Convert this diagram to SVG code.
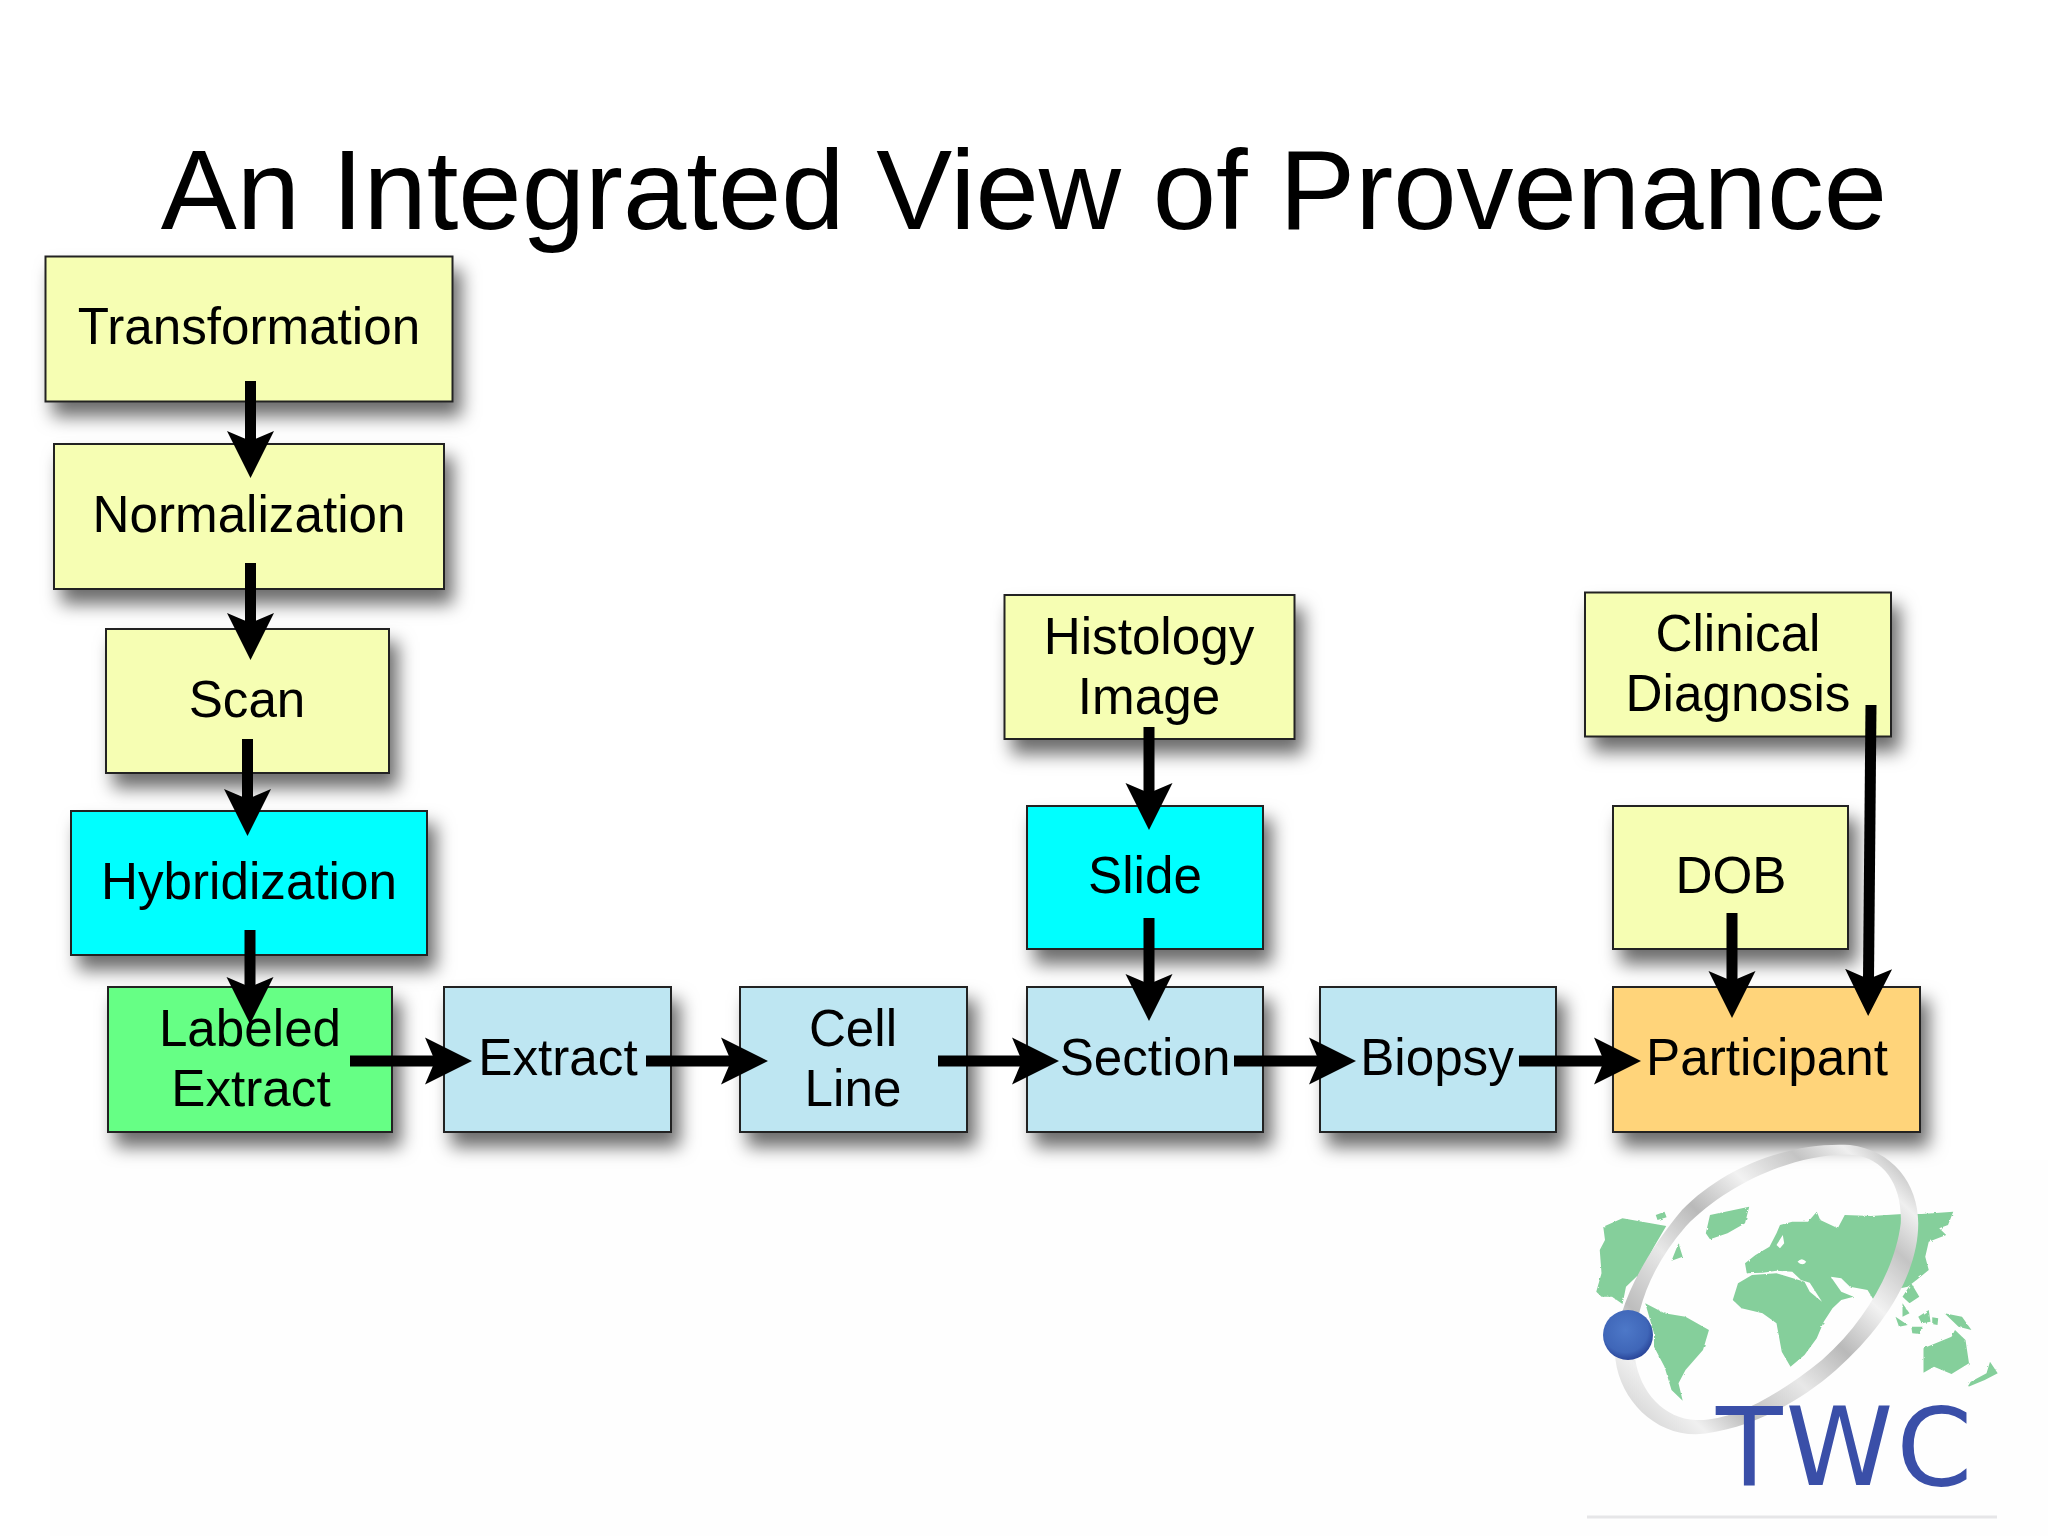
<svg xmlns="http://www.w3.org/2000/svg" width="2048" height="1536" viewBox="0 0 2048 1536">
<style>
text{font-family:"Liberation Sans",Arial,sans-serif;fill:#000}
.t{font-size:51.2px;text-anchor:middle}
.title{font-size:113.9px;text-anchor:middle}
.b{stroke:#222;stroke-width:2;filter:url(#sh)}
.y{fill:#f6feb3}.c{fill:#00ffff}.g{fill:#66ff85}.l{fill:#bee6f2}.o{fill:#ffd47a}
#connectors line{stroke:#000;stroke-width:11;marker-end:url(#ah)}
.land{fill:#85cf9b;filter:url(#rough)}
</style>
<defs>
<filter id="sh" x="-20%" y="-20%" width="150%" height="150%"><feDropShadow dx="8" dy="14" stdDeviation="9" flood-color="#000" flood-opacity=".58"/></filter>
<filter id="rough" x="-5%" y="-5%" width="110%" height="110%"><feTurbulence type="fractalNoise" baseFrequency=".09" numOctaves="2" seed="4"/><feDisplacementMap in="SourceGraphic" scale="7"/></filter>
<marker id="ah" markerUnits="userSpaceOnUse" markerWidth="50" markerHeight="50" refX="10" refY="24" orient="auto" viewBox="0 0 50 48"><path d="M0 .5L47 24L0 47.500L10 24Z" fill="#000"/></marker>
<linearGradient id="ring" gradientUnits="userSpaceOnUse" x1="350" y1="950" x2="1150" y2="150">
<stop offset="0" stop-color="#d0d0d0"/><stop offset=".12" stop-color="#f0f0f0"/><stop offset=".22" stop-color="#bdbdbd"/><stop offset=".38" stop-color="#e8e8e8"/><stop offset=".52" stop-color="#b9b9b9"/><stop offset=".66" stop-color="#f2f2f2"/><stop offset=".8" stop-color="#c4c4c4"/><stop offset=".9" stop-color="#efefef"/><stop offset="1" stop-color="#b4b4b4"/></linearGradient>
<radialGradient id="ball" cx=".45" cy=".4" r=".6"><stop offset="0" stop-color="#4d78c8"/><stop offset=".75" stop-color="#3f66b8"/><stop offset="1" stop-color="#2a469a"/></radialGradient>
</defs>
<rect width="2048" height="1536" fill="#fff"/>
<rect x="50" y="1160" width="1998" height="376" fill="#fefefe"/>
<text class="title" x="1024" y="229">An Integrated View of Provenance</text>

<g id="n-transformation"><rect class="b y" x="45.500" y="256.500" width="407" height="145"/><text class="t" x="249" y="344">Transformation</text></g>
<g id="n-normalization"><rect class="b y" x="54" y="444" width="390" height="145"/><text class="t" x="249" y="532">Normalization</text></g>
<g id="n-scan"><rect class="b y" x="106" y="629" width="283" height="144"/><text class="t" x="247" y="717">Scan</text></g>
<g id="n-hybridization"><rect class="b c" x="71" y="811" width="356" height="144"/><text class="t" x="249" y="899">Hybridization</text></g>
<g id="n-labeled"><rect class="b g" x="108" y="987" width="284" height="145"/><text class="t" x="250" y="1046">Labeled</text><text class="t" x="251" y="1106">Extract</text></g>
<g id="n-extract"><rect class="b l" x="444" y="987" width="227" height="145"/><text class="t" x="558" y="1075">Extract</text></g>
<g id="n-cellline"><rect class="b l" x="740" y="987" width="227" height="145"/><text class="t" x="853" y="1046">Cell</text><text class="t" x="853" y="1106">Line</text></g>
<g id="n-section"><rect class="b l" x="1027" y="987" width="236" height="145"/><text class="t" x="1145" y="1075">Section</text></g>
<g id="n-biopsy"><rect class="b l" x="1320" y="987" width="236" height="145"/><text class="t" x="1437" y="1075">Biopsy</text></g>
<g id="n-participant"><rect class="b o" x="1613" y="987" width="307" height="145"/><text class="t" x="1767" y="1075">Participant</text></g>
<g id="n-histology"><rect class="b y" x="1004.500" y="595" width="290" height="144"/><text class="t" x="1149" y="654">Histology</text><text class="t" x="1149" y="714">Image</text></g>
<g id="n-slide"><rect class="b c" x="1027" y="806" width="236" height="143"/><text class="t" x="1145" y="893">Slide</text></g>
<g id="n-clinical"><rect class="b y" x="1585" y="592.500" width="306" height="144"/><text class="t" x="1738" y="651">Clinical</text><text class="t" x="1738" y="711">Diagnosis</text></g>
<g id="n-dob"><rect class="b y" x="1613" y="806" width="235" height="143"/><text class="t" x="1731" y="893">DOB</text></g>

<g id="connectors">
<line x1="250.500" y1="381" x2="250.500" y2="441"/>
<line x1="250.500" y1="563" x2="250.500" y2="623"/>
<line x1="247.500" y1="739" x2="247.500" y2="799"/>
<line x1="250" y1="930" x2="250" y2="987"/>
<line x1="350" y1="1061" x2="435" y2="1061"/>
<line x1="646" y1="1061" x2="731" y2="1061"/>
<line x1="938" y1="1061" x2="1022" y2="1061"/>
<line x1="1234" y1="1061" x2="1319" y2="1061"/>
<line x1="1519" y1="1061" x2="1604" y2="1061"/>
<line x1="1149" y1="727" x2="1149" y2="793"/>
<line x1="1149" y1="918" x2="1149" y2="984"/>
<line x1="1732" y1="913" x2="1732" y2="981"/>
<line x1="1871" y1="705" x2="1868.500" y2="979"/>
</g>

<g id="logo">
<g transform="translate(1500,1100) scale(.35,.3333)">
<path class="land" d="M295 380L350 355L475 378L440 440L400 520L360 560L350 612L320 590L290 590L275 575L290 520L285 450L300 420ZM510 430L522 470L490 482ZM445 345L470 335L476 352L450 360ZM600 345L712 320L700 370L650 400L600 418L588 400ZM415 610L470 640L530 650L597 690L580 750L530 810L510 850L522 902L490 870L470 800L440 740L440 700ZM700 490L730 465L770 440L790 400L800 375L835 365L880 365L905 335L915 360L965 385L985 345L1060 348L1150 342L1205 342L1295 335L1280 375L1255 385L1275 405L1225 425L1215 470L1225 510L1190 540L1165 560L1120 570L1075 612L1050 570L1000 560L975 535L945 530L975 575L1010 590L975 600L950 625L925 665L905 715L870 765L830 800L805 755L790 670L750 640L690 625L665 600L680 550L720 525L790 520L870 545L885 575L920 605L885 548L860 540L835 515L790 512L750 518L705 520ZM1210 745L1290 710L1300 690L1330 720L1340 790L1290 822L1240 800L1210 818ZM1400 785L1422 820L1385 840L1335 862L1345 845L1390 820ZM1270 640L1320 650L1347 690L1310 680ZM1175 550L1198 590L1170 610L1150 590ZM1150 610L1170 640L1150 650ZM1130 650L1165 675L1140 680ZM1195 650L1225 630L1230 665L1205 670ZM1175 680L1205 680L1200 702L1178 700ZM1235 652L1252 655L1250 675L1235 672Z"/>
<path fill="#fff" d="M790 435L808 405L812 430L800 445ZM850 485Q862 470 875 485Q865 500 850 485Z"/>
<path fill="url(#ring)" fill-rule="evenodd" d="M1000 135C1120 150 1195 250 1195 370C1195 520 1100 680 960 810C830 930 680 995 560 1003C440 1003 345 900 330 780C320 650 400 480 520 330C640 200 830 125 1000 135ZM1010 165C1100 175 1150 260 1145 370C1130 500 1050 660 920 780C790 890 660 965 560 960C470 955 400 880 385 770C380 640 430 500 530 380C650 250 850 155 1010 165Z"/>
</g>
<circle cx="1628" cy="1335" r="25" fill="url(#ball)"/>
<text x="1716" y="1485" font-size="109" letter-spacing="3" style="font-family:'DejaVu Sans',sans-serif;fill:#3a4fa8">TWC</text>
<rect x="1587" y="1515.500" width="410" height="3" fill="#e6e6e8"/>
</g>
</svg>
